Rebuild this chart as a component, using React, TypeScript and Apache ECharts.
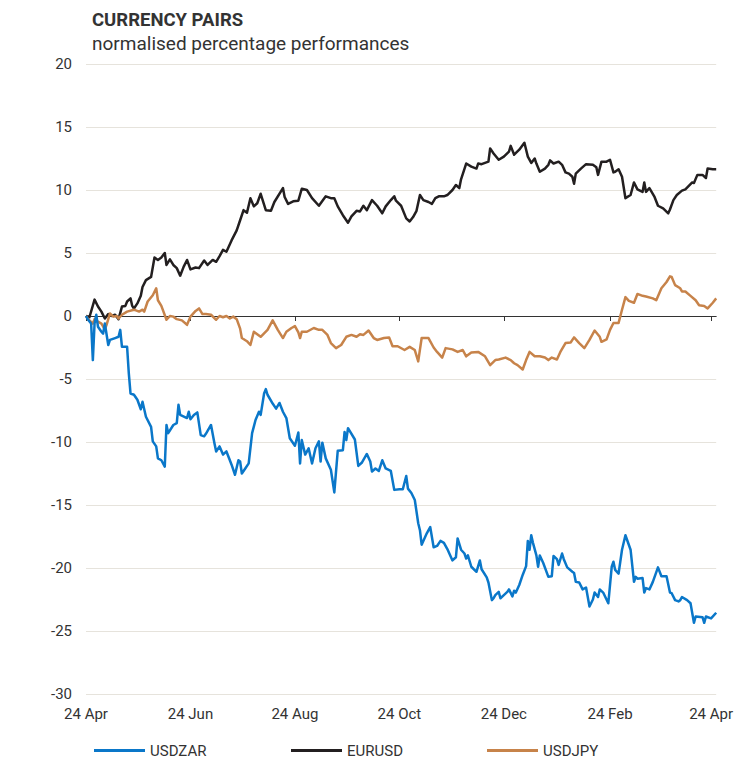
import React, { useEffect, useRef } from "react";
import * as echarts from "echarts";

// x = days since 24 Apr, y = normalised % performance
const tickDays = [0, 61, 122, 183, 244, 306, 365];
const tickLabels = ["24 Apr", "24 Jun", "24 Aug", "24 Oct", "24 Dec", "24 Feb", "24 Apr"];
const yTicks = [-30, -25, -20, -15, -10, -5, 0, 5, 10, 15, 20];

const seriesNames = ["USDZAR", "EURUSD", "USDJPY"];
const seriesColors = ["#0a77c9", "#231f20", "#c7834a"];

const usdzar: [number, number][] = [
  [0, 0], [1, -0.25], [3, -0.6], [4, -3.5], [5, -0.6], [6, 0.1], [7, -0.85], [9, -1.25], [10, -1.4], [11, -0.6],
  [13, -2.3], [14, -1.9], [17, -1.75], [19, -1.65], [20, -1.1], [21, -2.45], [24, -2.45], [25, -4.55], [26, -6.15],
  [28, -6.25], [30, -6.65], [32, -7.4], [33, -6.8], [35, -8.0], [38, -8.8], [39, -9.95], [41, -10.35], [42, -11.3],
  [44, -11.45], [46, -11.95], [47, -8.65], [48, -9.3], [51, -8.65], [53, -8.5], [54, -7.05], [55, -7.85], [59, -8.1],
  [60, -7.6], [61, -8.2], [63, -7.85], [65, -7.65], [67, -9.45], [69, -9.55], [70, -9.35], [73, -8.65], [75, -10.1],
  [76, -10.75], [78, -10.35], [80, -11.0], [82, -10.75], [84, -11.45], [85, -11.8], [87, -12.6], [89, -11.45],
  [90, -11.55], [91, -12.5], [93, -12.1], [95, -11.7], [97, -9.3], [99, -8.25], [101, -7.6], [102, -7.85], [104, -6.15],
  [105, -5.8], [106, -6.25], [109, -6.95], [111, -7.35], [113, -6.9], [115, -7.6], [117, -8.1], [119, -9.7],
  [122, -10.3], [124, -9.25], [125, -11.7], [126, -9.85], [128, -11.0], [130, -10.5], [132, -11.7], [134, -10.5],
  [136, -9.95], [137, -11.55], [138, -10.05], [140, -11.3], [143, -12.2], [145, -14.0], [147, -10.7], [150, -10.65],
  [151, -9.2], [152, -9.85], [153, -8.9], [157, -9.8], [159, -11.9], [161, -11.65], [164, -10.95], [166, -11.55],
  [167, -12.35], [169, -12.1], [171, -12.3], [173, -11.45], [175, -12.1], [178, -12.3], [180, -13.8], [183, -13.75],
  [185, -13.75], [187, -12.7], [188, -13.7], [190, -14.05], [192, -14.6], [194, -16.45], [195, -17.0], [196, -18.15],
  [199, -17.25], [201, -16.75], [203, -18.35], [205, -18.25], [207, -17.85], [209, -18.0], [211, -18.5], [214, -19.4],
  [216, -19.15], [217, -17.65], [219, -18.55], [221, -18.85], [222, -19.25], [223, -19.0], [225, -19.9], [228, -20.3],
  [230, -19.4], [231, -20.1], [234, -20.75], [235, -21.15], [237, -22.55], [238, -22.4], [239, -22.15], [241, -21.9],
  [242, -22.4], [244, -22.15], [246, -21.9], [247, -21.7], [249, -22.25], [250, -21.8], [251, -21.95], [253, -21.35],
  [255, -20.55], [257, -19.85], [258, -17.85], [259, -18.55], [260, -17.4], [261, -18.0], [263, -19.0], [264, -19.9],
  [265, -19.0], [267, -19.6], [270, -20.7], [272, -20.65], [273, -19.05], [275, -19.3], [276, -19.75], [278, -18.85],
  [279, -19.3], [281, -19.95], [284, -20.3], [285, -20.4], [286, -21.1], [288, -21.15], [290, -21.7], [292, -21.55],
  [294, -23.05], [296, -22.5], [297, -21.95], [299, -22.3], [300, -21.7], [302, -21.95], [305, -22.8], [307, -19.9],
  [308, -19.5], [309, -20.15], [311, -20.45], [313, -18.55], [315, -17.4], [318, -18.55], [320, -21.1], [321, -20.7],
  [322, -20.85], [325, -20.8], [326, -21.95], [327, -21.6], [329, -21.7], [331, -21.1], [334, -19.95], [336, -20.65],
  [339, -20.65], [341, -21.95], [342, -22.0], [344, -22.55], [346, -22.65], [347, -22.55], [348, -22.3], [351, -22.55],
  [353, -22.8], [355, -24.35], [356, -23.85], [360, -23.9], [361, -24.35], [362, -23.85], [365, -24.0], [368, -23.55],
];

const eurusd: [number, number][] = [
  [0, 0], [2, -0.1], [5, 1.3], [7, 0.75], [9, 0.35], [11, -0.2], [13, 0.15], [15, 0], [17, 0.1], [19, -0.25],
  [21, 0.75], [23, 0.8], [24, 1.15], [26, 1.4], [27, 0.8], [28, 0.6], [30, 1.0], [32, 1.6], [33, 2.3], [35, 2.85],
  [38, 3.1], [40, 4.65], [42, 4.45], [44, 4.65], [46, 5.0], [47, 4.05], [49, 4.5], [51, 4.05], [53, 3.8], [55, 3.2],
  [57, 3.9], [59, 4.45], [61, 3.7], [64, 3.85], [66, 3.8], [69, 4.4], [71, 4.05], [74, 4.45], [76, 4.3], [78, 4.75],
  [80, 5.25], [82, 5.1], [85, 6.0], [88, 6.8], [90, 7.6], [92, 8.4], [94, 8.2], [96, 9.35], [98, 8.7], [100, 8.95],
  [102, 9.7], [105, 8.4], [108, 8.35], [110, 9.05], [115, 10.15], [116, 9.45], [118, 8.9], [121, 9.1], [124, 9.15],
  [126, 10.1], [129, 10.0], [132, 9.35], [136, 8.75], [140, 9.5], [143, 9.35], [145, 9.35], [147, 8.7], [150, 8.0],
  [153, 7.4], [155, 7.9], [158, 8.35], [160, 8.3], [162, 8.75], [164, 8.4], [167, 9.2], [170, 8.75], [173, 8.15],
  [175, 8.7], [178, 9.2], [180, 9.5], [181, 9.15], [184, 8.75], [187, 7.75], [189, 7.5], [191, 7.85], [193, 8.35],
  [195, 9.6], [197, 9.2], [200, 9.05], [202, 8.9], [204, 9.35], [206, 9.5], [209, 9.5], [211, 9.6], [214, 10.0],
  [216, 10.4], [218, 10.15], [219, 10.85], [222, 12.1], [225, 11.85], [228, 11.7], [229, 12.1], [231, 12.05],
  [235, 12.25], [236, 13.3], [238, 12.9], [241, 12.4], [244, 12.65], [247, 13.05], [248, 13.5], [250, 12.8],
  [253, 13.2], [256, 13.75], [258, 12.65], [260, 12.15], [262, 12.5], [263, 12.1], [265, 11.45], [268, 11.7],
  [270, 12.0], [271, 12.35], [273, 12.1], [276, 12.25], [278, 12.0], [280, 11.4], [282, 11.3], [284, 11.05],
  [285, 10.5], [286, 11.3], [289, 11.7], [292, 12.05], [296, 12.0], [298, 11.8], [299, 11.2], [301, 12.25],
  [304, 12.25], [306, 12.4], [308, 11.4], [309, 11.45], [311, 11.65], [313, 11.05], [315, 9.35], [318, 9.6],
  [320, 10.6], [322, 10.05], [325, 9.85], [326, 10.6], [327, 9.85], [329, 10.15], [332, 9.45], [334, 8.75],
  [337, 8.55], [340, 8.15], [341, 8.45], [343, 9.2], [345, 9.6], [348, 9.95], [350, 10.05], [354, 10.6],
  [355, 10.55], [357, 11.2], [360, 11.2], [362, 10.95], [363, 11.7], [366, 11.65], [368, 11.65],
];

const usdjpy: [number, number][] = [
  [0, 0], [1, -0.2], [4, -0.6], [5, -0.25], [7, -0.45], [9, -0.6], [11, -1.05], [12, -0.7], [14, 0.2], [16, -0.05],
  [18, 0], [19, -0.2], [21, 0.1], [24, 0.35], [28, 0.5], [31, 0.35], [33, 0.5], [34, 0.35], [36, 1.15], [39, 1.65],
  [41, 2.2], [42, 1.25], [44, 0.8], [47, -0.3], [49, 0], [51, -0.05], [53, -0.25], [56, -0.35], [59, -0.7],
  [61, -0.05], [64, 0.4], [66, 0.6], [68, 0.15], [70, 0.15], [73, 0.1], [76, -0.3], [78, 0], [80, -0.1], [82, 0],
  [84, -0.2], [86, -0.05], [88, -0.25], [90, -1.0], [91, -1.75], [94, -2.0], [96, -2.3], [98, -1.25], [102, -1.65],
  [106, -1.1], [109, -0.35], [112, -1.1], [115, -1.75], [117, -1.25], [120, -0.95], [122, -0.8], [124, -1.3],
  [125, -1.75], [126, -1.25], [129, -1.25], [133, -0.95], [136, -1.1], [138, -1.1], [141, -1.5], [143, -2.15],
  [146, -2.55], [149, -2.3], [152, -1.65], [155, -1.5], [158, -1.65], [160, -1.45], [162, -1.5], [165, -1.15],
  [168, -1.75], [170, -1.9], [174, -1.75], [177, -1.7], [179, -2.4], [182, -2.4], [186, -2.7], [189, -2.45],
  [192, -2.7], [194, -3.6], [196, -1.75], [200, -1.75], [203, -2.5], [205, -2.85], [208, -3.3], [210, -2.55],
  [214, -2.65], [217, -2.85], [220, -2.7], [222, -3.2], [225, -2.9], [229, -2.85], [233, -3.2], [236, -3.9],
  [239, -3.5], [241, -3.45], [245, -3.3], [248, -3.5], [250, -3.75], [252, -3.9], [255, -4.25], [257, -3.5],
  [259, -2.85], [262, -3.2], [265, -3.2], [268, -3.3], [270, -3.5], [272, -3.3], [275, -3.45], [277, -2.85],
  [280, -2.15], [283, -2.1], [285, -1.7], [288, -2.15], [291, -2.55], [294, -1.9], [297, -1.15], [300, -1.65],
  [301, -2.05], [304, -1.85], [306, -1.1], [308, -0.55], [311, -0.55], [313, 0.5], [315, 1.5], [317, 1.2],
  [320, 1.05], [322, 1.75], [325, 1.6], [327, 1.55], [331, 1.4], [333, 1.25], [336, 2.2], [339, 2.7], [341, 3.15],
  [342, 3.1], [344, 2.45], [347, 2.2], [348, 1.95], [350, 1.95], [353, 1.6], [356, 1.25], [358, 0.85], [361, 0.8],
  [363, 0.6], [366, 1.05], [368, 1.4],
];

const seriesData = [usdzar, eurusd, usdjpy];
const legendLefts = [94, 291, 487];

export default function App() {
  const ref = useRef<HTMLDivElement>(null);
  useEffect(() => {
    if (!ref.current) return;
    const chart = echarts.init(ref.current, undefined, { renderer: "svg" });
    const font = "Roboto, 'Noto Sans', sans-serif";
    chart.setOption({
      animation: false,
      backgroundColor: "#ffffff",
      textStyle: { fontFamily: font },
      title: {
        text: "CURRENCY PAIRS",
        subtext: "normalised percentage performances",
        left: 87,
        top: 5,
        itemGap: 5,
        textStyle: { fontFamily: font, fontSize: 18.5, fontWeight: "bold", color: "#333333" },
        subtextStyle: { fontFamily: font, fontSize: 19, color: "#333333" },
      },
      legend: seriesNames.map((n, i) => ({
        data: [n],
        left: legendLefts[i],
        bottom: 0,
        icon: "rect",
        itemWidth: 51,
        itemHeight: 3,
        itemGap: 5,
        textStyle: { fontFamily: font, fontSize: 15, lineHeight: 14, color: "#333333", padding: [0, 0, 0, 0] },
        padding: 0,
        selectedMode: false,
      })),
      grid: { left: 86, right: 19, top: 64, bottom: 64, containLabel: false },
      xAxis: [
        {
          type: "value",
          min: 0,
          max: 368,
          position: "bottom",
          axisLine: { show: false, onZero: false },
          axisTick: { show: false },
          splitLine: { show: false },
          axisLabel: {
            customValues: tickDays,
            formatter: (v: number) => tickLabels[tickDays.indexOf(v)] ?? "",
            color: "#333333",
            fontSize: 15,
            margin: 12,
            fontFamily: font,
          },
        },
        {
          type: "value",
          min: 0,
          max: 368,
          position: "bottom",
          axisLine: { show: true, onZero: true, lineStyle: { color: "#333333", width: 1 } },
          axisTick: { show: true, customValues: tickDays, length: 5, lineStyle: { color: "#333333" } },
          axisLabel: { show: false },
          splitLine: { show: false },
        },
      ],
      yAxis: {
        type: "value",
        min: -30,
        max: 20,
        interval: 5,
        axisLine: { show: false },
        axisTick: { show: false },
        axisLabel: {
          color: "#333333",
          fontSize: 15,
          margin: 14,
          fontFamily: font,
          formatter: (v: number) => (yTicks.includes(v) ? String(v) : ""),
        },
        splitLine: { show: true, lineStyle: { color: "#e6e3dc", width: 1 } },
      },
      series: seriesNames.map((n, i) => ({
        name: n,
        type: "line",
        xAxisIndex: 0,
        data: seriesData[i],
        showSymbol: false,
        symbol: "none",
        lineStyle: { color: seriesColors[i], width: 2.5, join: "round" },
        itemStyle: { color: seriesColors[i] },
        z: i === 0 ? 3 : 2,
      })),
    });
    return () => chart.dispose();
  }, []);
  return <div ref={ref} style={{ width: 736, height: 758, position: "absolute", left: 0, top: 0 }} />;
}
